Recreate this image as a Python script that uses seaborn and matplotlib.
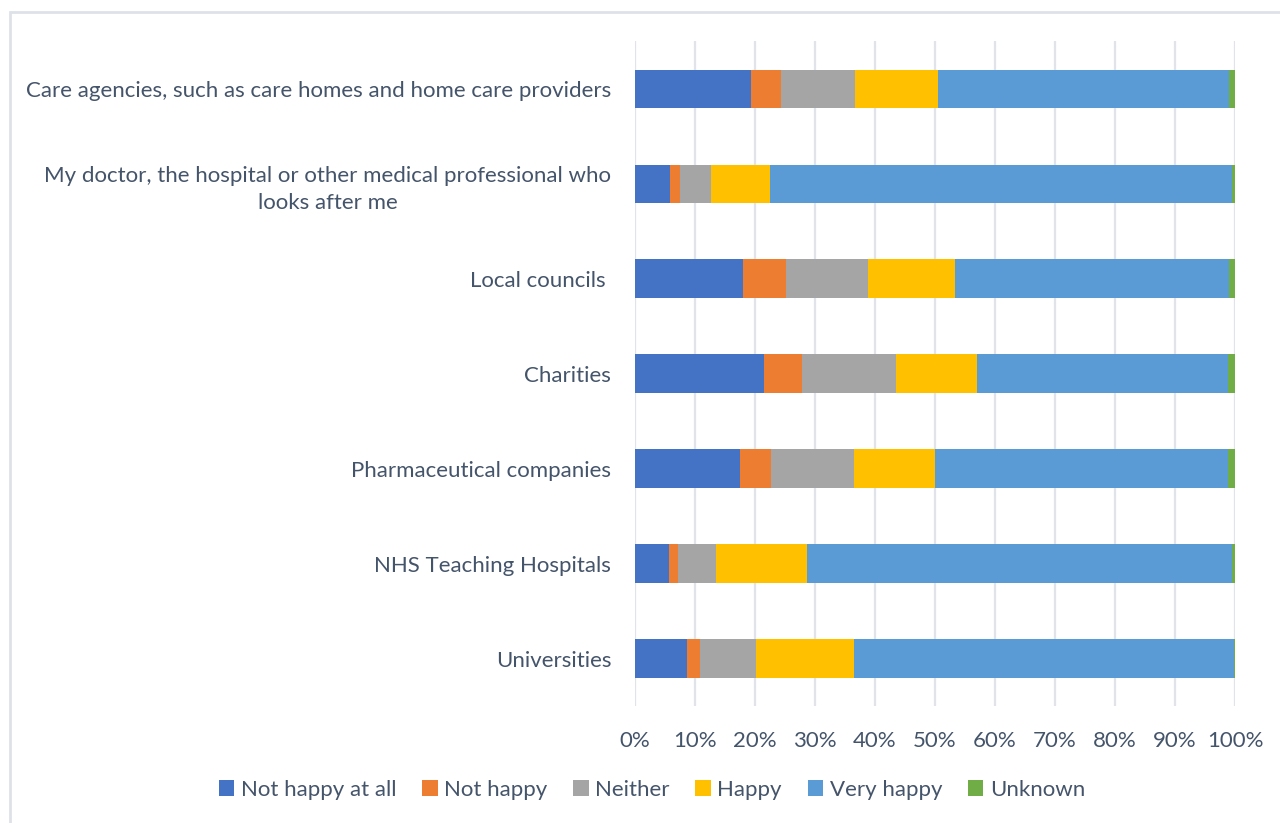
import pandas as pd
import numpy as np
import matplotlib
matplotlib.use("Agg")
import matplotlib.pyplot as plt
import seaborn as sns
from matplotlib.patches import Patch, Rectangle

# Data (percent of respondents)
categories = [
    "Care agencies, such as care homes and home care providers",
    "My doctor, the hospital or other medical professional who\nlooks after me",
    "Local councils ",
    "Charities",
    "Pharmaceutical companies",
    "NHS Teaching Hospitals",
    "Universities",
]
responses = ["Not happy at all", "Not happy", "Neither", "Happy", "Very happy", "Unknown"]

not_happy_at_all = [19.4, 5.8, 18.0, 21.5, 17.5, 5.7, 8.7]
not_happy = [4.9, 1.7, 7.2, 6.3, 5.2, 1.5, 2.2]
neither = [12.4, 5.2, 13.7, 15.7, 13.8, 6.3, 9.3]
happy = [13.8, 9.8, 14.5, 13.5, 13.5, 15.1, 16.3]
very_happy = [48.4, 77.0, 45.6, 41.8, 48.8, 70.9, 63.3]
unknown = [1.1, 0.5, 1.0, 1.2, 1.2, 0.5, 0.2]

colors = ["#4472C4", "#ED7D31", "#A5A5A5", "#FFC000", "#5B9BD5", "#70AD47"]
text_color = "#44546A"

df = pd.DataFrame({
    "category": categories,
    "Not happy at all": not_happy_at_all,
    "Not happy": not_happy,
    "Neither": neither,
    "Happy": happy,
    "Very happy": very_happy,
    "Unknown": unknown,
})
# normalise each row to 100%
vals = df[responses]
df[responses] = vals.div(vals.sum(axis=1), axis=0) * 100
cum = df[responses].cumsum(axis=1)

sns.set_style("white")
plt.rcParams["font.family"] = ["Lato", "DejaVu Sans"]

fig = plt.figure(figsize=(12.8, 8.23), dpi=100)
ax = fig.add_axes([0.496, 0.1416, 0.469, 0.808])

# stacked bars: draw cumulative totals from the outermost segment inward
for resp, col in reversed(list(zip(responses, colors))):
    plot_df = pd.DataFrame({"category": df["category"], "value": cum[resp]})
    sns.barplot(data=plot_df, x="value", y="category", orient="h",
                color=col, width=0.41, saturation=1, linewidth=0, ax=ax, zorder=3)

ax.set_xlim(0, 100)
ax.set_xticks(np.arange(0, 101, 10))
ax.set_xticklabels([f"{t}%" for t in range(0, 101, 10)])
ax.set_xlabel("")
ax.set_ylabel("")
ax.grid(axis="x", color="#E0E3E9", linewidth=1.6, zorder=0)
ax.grid(axis="y", visible=False)
for s in ax.spines.values():
    s.set_visible(False)
ax.tick_params(axis="x", length=0, pad=18, labelsize=16, labelcolor=text_color)
ax.tick_params(axis="y", length=0, pad=17, labelsize=16, labelcolor=text_color)
for lbl in ax.get_yticklabels():
    lbl.set_multialignment("center")
    lbl.set_linespacing(1.45)

handles = [Patch(facecolor=c, edgecolor="none") for c in colors]
fig.legend(handles, responses, loc="center", bbox_to_anchor=(652 / 1280, 1 - 790 / 823),
           ncol=6, frameon=False, fontsize=16, labelcolor=text_color,
           handlelength=0.7, handleheight=0.7, handletextpad=0.3, columnspacing=1.15)

# chart area border
fig.patches.append(Rectangle((10 / 1280, -0.01), 1.1, 1 - 12 / 823 + 0.01,
                             transform=fig.transFigure, fill=False,
                             edgecolor="#DEE2E8", linewidth=2))

fig.savefig("out.png", dpi=100)
